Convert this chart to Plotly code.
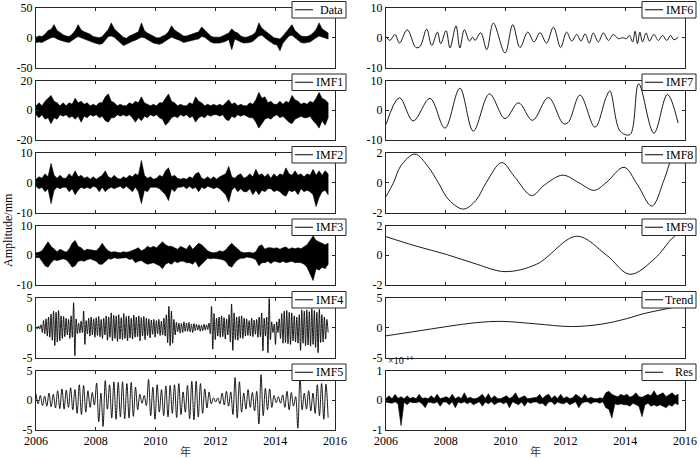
import numpy as np
import plotly.graph_objects as go

# ---------------- data ----------------
T_START, T_END = 2006.0, 2015.77

# Noisy series: upper / lower edges of the dense trace, ~0.1 yr apart
data_upper = [1,3,2,6,12,14,22,12,9,5, 3,2,6,12,22,13,10,8,6,2,
              1,0,2,8,14,25,15,10,5,1, -1,3,5,8,10,25,12,8,5,2,
              0,0,3,5,10,20,13,10,6,3, 3,5,6,8,10,18,13,9,3,1,
              1,1,3,5,8,15,10,8,3,1, 1,3,5,10,25,16,12,8,3,0,
              -1,-2,3,9,16,22,12,7,3,2, 2,4,8,14,25,15,12,8]
data_lower = [-8,-7,-8,-5,-2,0,1,-2,-4,-6, -7,-8,-5,-1,2,0,-3,-4,-6,-8,
              -10,-11,-10,-4,2,3,1,-3,-8,-13, -11,-9,-6,-4,-2,1,0,-3,-6,-9,
              -10,-11,-9,-6,-2,1,0,-3,-5,-8, -7,-5,-4,-3,-2,2,1,-3,-7,-9,
              -9,-9,-8,-6,-3,-20,-2,-4,-7,-9, -9,-8,-6,-2,3,4,0,-4,-8,-11,
              -12,-22,-9,-3,3,4,0,-4,-8,-9, -8,-7,-4,0,3,2,0,-2]

imf1_upper = [3,5,3,6,8,10,6,5,3,5, 3,5,4,8,5,6,4,5,3,4, 3,5,5,9,11,6,5,3,4,3,
              3,5,4,6,5,9,5,4,3,4, 3,5,5,8,11,6,5,3,4,3, 3,5,4,9,6,5,3,4,3,4,
              3,4,3,5,7,4,5,3,4,3, 3,5,4,7,12,8,9,5,6,4, 4,6,4,6,5,10,7,6,4,5,
              4,6,5,8,12,8,7,5]
imf1_lower = [-3,-5,-3,-6,-5,-9,-5,-6,-3,-4, -3,-5,-4,-6,-4,-8,-4,-5,-3,-4,
              -3,-5,-4,-7,-8,-5,-5,-3,-4,-3, -4,-3,-5,-8,-5,-7,-4,-5,-3,-4,
              -3,-5,-6,-10,-8,-5,-4,-5,-3,-4, -3,-5,-4,-8,-5,-4,-5,-3,-4,-3,
              -3,-4,-3,-6,-7,-4,-5,-3,-4,-3, -4,-5,-5,-8,-12,-9,-6,-5,-6,-4,
              -3,-5,-4,-6,-8,-9,-6,-5,-4,-5, -5,-4,-7,-9,-12,-7,-10,-5]

imf2_upper = [1.2,2,1.5,3,2,6.5,2.5,1.5,2.5,1.5, 1.5,3,2,4,2,2.5,1.5,2,1.2,2,
              1.2,2,2.5,4,2,1.5,2.5,1.5,1.2,2, 1.5,2.5,2,3,2.5,7.5,2.5,1.5,2,1.2,
              1.5,2.5,2,4,5,2,2.5,1.5,1.2,1.5, 1.2,2,1.5,3,3.5,1.5,1.2,2,1.2,2,
              1.2,2,2.5,3,5.5,2,1.5,2.5,3,1.5, 2,3,2,4.5,2.5,3,2,3,1.5,3,
              2,3,2.5,5,3,2.5,4,2.5,3,2, 3,2.5,4.5,2.5,4,2.5,4,3]
imf2_lower = [-1.2,-2,-1.5,-3,-2,-7,-2.5,-1.5,-2,-1.5, -1.5,-3,-2,-4,-2.5,-1.5,-2,-1.5,-2,-1.2,
              -1.5,-3,-1.5,-3,-2,-1.5,-2,-1.5,-1.2,-2, -1.2,-2,-3,-1.5,-3,-7,-2.5,-3,-1.5,-1.5,
              -1.5,-2,-3,-4,-6,-2,-3,-1.5,-1.5,-1.2, -2,-1.2,-2,-1.5,-3,-1.5,-2,-1.2,-1.5,-2,
              -1.5,-2,-3,-4,-6.5,-2.5,-1.5,-3,-2,-3, -3,-2,-4,-2.5,-4,-2.5,-3,-2,-2,-3,
              -2.5,-3,-4,-4.5,-2.5,-3,-2.5,-4,-2,-3, -2.5,-3,-4,-8,-5,-3,-2.5,-4]

imf3_upper = [0.8,1,1.5,3,4.5,3,2,1.2,2,1.5, 1,2,4,5,3,2.5,1.5,2,1.8,1.5,
              1.5,2.5,4,2.5,1.5,1,1.2,1,0.8,1.2, 1,1.2,1.5,2,2.5,1.5,2,3,2.5,3,
              2.5,3.5,4.5,3.5,3,3,2.5,2,3,2.5, 2,3.5,2,3,4,3.5,2.5,1.5,1,0.8,
              1,1.5,1.2,1.8,3,4,3,2,1.2,0.8, 0.8,1,0.7,1.2,3,3.5,2,2.5,2.5,2.3,
              2.5,2,2.5,2.8,2,2.5,2.2,2.5,2.2,3, 3.5,5,6.5,5,4.5,4,3.5,4]
imf3_lower = [-0.8,-0.7,-2,-3.5,-4,-2.5,-1.5,-1.8,-1.6,-1.2, -1.5,-2.5,-4,-3.5,-2,-1.8,-2,-1.5,-1.2,-1.6,
              -2,-3,-3,-2,-1.2,-1.3,-0.8,-1.1,-1,-0.9, -0.8,-1.4,-1.2,-2.5,-2,-1.8,-2.5,-3,-2.8,-2.5,
              -3,-3.5,-4.5,-3,-2.5,-3,-2,-2.5,-2,-2, -2.5,-2.5,-3,-2,-4,-3,-2,-1,-1.2,-1,
              -1.2,-1.3,-1.5,-2,-3.5,-4,-2.5,-1.5,-1,-1, -0.6,-0.8,-1,-1.5,-3.5,-2.5,-2.5,-2,-2.8,-2,
              -2.2,-2.5,-2,-2.5,-2.2,-2,-2.5,-2.4,-2.5,-3, -4,-6,-8.5,-4.5,-5,-4,-4.5,-3]

# Res in units of 1e-14 mm
res_e14_upper = [0.06,0.15,0.05,0.2,0.06,0.12,0.05,0.15,0.06,0.1, 0.05,0.2,0.06,0.08,0.05,0.15,0.06,0.2,0.05,0.08,
                 0.12,0.06,0.2,0.05,0.12,0.06,0.25,0.06,0.1,0.05, 0.06,0.12,0.2,0.06,0.22,0.05,0.15,0.06,0.05,0.1,
                 0.15,0.06,0.12,0.25,0.06,0.1,0.15,0.05,0.06,0.08, 0.1,0.2,0.06,0.15,0.2,0.06,0.15,0.06,0.2,0.06,
                 0.12,0.06,0.08,0.2,0.12,0.06,0.2,0.05,0.1,0.06, 0.05,0.08,0.06,0.25,0.3,0.2,0.15,0.12,0.2,0.15,
                 0.2,0.1,0.15,0.25,0.12,0.1,0.15,0.2,0.15,0.32, 0.15,0.2,0.25,0.12,0.2,0.25,0.15,0.2]
res_e14_lower = [-0.06,-0.08,-0.1,-0.05,-0.12,-0.85,-0.06,-0.15,-0.05,-0.08, -0.08,-0.05,-0.12,-0.25,-0.06,-0.08,-0.1,-0.05,-0.2,-0.06,
                 -0.06,-0.15,-0.05,-0.25,-0.06,-0.1,-0.05,-0.12,-0.06,-0.15, -0.1,-0.05,-0.2,-0.06,-0.12,-0.05,-0.15,-0.08,-0.06,-0.12,
                 -0.06,-0.25,-0.05,-0.1,-0.15,-0.06,-0.2,-0.05,-0.1,-0.06, -0.06,-0.12,-0.1,-0.2,-0.06,-0.05,-0.15,-0.06,-0.1,-0.12,
                 -0.06,-0.15,-0.1,-0.05,-0.25,-0.1,-0.06,-0.05,-0.12,-0.06, -0.06,-0.1,-0.05,-0.25,-0.3,-0.6,-0.12,-0.15,-0.12,-0.15,
                 -0.15,-0.2,-0.1,-0.15,-0.2,-0.55,-0.15,-0.1,-0.2,-0.15, -0.2,-0.15,-0.2,-0.25,-0.15,-0.2,-0.1,-0.15]

# Oscillatory series: successive extrema
imf4_vals = [
    0.1,-0.2,0.3,-0.2,0.5,-0.8,1.2,-1.0,1.5,-1.4,1.8,-1.6,2.3,-2.1,2.8,-3.0,2.6,-2.4,2.9,-2.2,2.0,-1.8,1.9,-1.5,
    1.6,-1.2,1.4,-1.8,2.0,-1.6,4.2,-4.7,1.5,-1.0,0.8,-0.9,1.1,-0.8,2.8,-2.8,1.2,-1.0,1.6,-1.4,1.8,-1.2,1.5,-1.6,
    1.7,-1.3,1.9,-1.5,1.4,-1.8,1.6,-1.2,2.0,-2.1,1.8,-1.6,2.5,-2.2,2.1,-1.8,2.0,-2.3,2.2,-1.9,1.7,-2.0,2.4,-1.8,
    1.9,-2.2,2.0,-1.7,1.6,-1.9,2.1,-1.6,1.8,-1.5,2.0,-2.2,1.7,-1.4,1.9,-2.0,1.6,-1.3,1.5,-1.7,1.3,-1.1,1.4,-1.6,
    1.2,-1.0,1.4,-1.3,1.1,-1.2,1.6,-1.4,2.2,-2.5,3.6,-3.0,2.8,-2.6,1.4,-1.2,0.9,-0.7,0.8,-0.9,0.7,-0.8,1.0,-0.6,
    0.8,-0.6,0.9,-0.7,0.6,-0.8,0.7,-0.5,0.6,-0.4,0.5,-0.6,0.4,-0.5,0.6,-0.4,0.5,-0.3,0.8,-1.0,3.6,-3.6,2.4,-2.0,
    1.6,-1.4,1.8,-1.6,2.0,-1.5,1.7,-1.9,1.5,-1.2,2.2,-2.4,4.0,-3.8,2.5,-2.0,1.8,-2.1,1.9,-1.7,2.0,-1.8,1.6,-1.4,
    1.5,-1.3,1.2,-1.4,1.6,-1.5,1.3,-1.1,1.4,-1.6,1.8,-1.5,2.5,-3.9,1.6,-1.4,1.8,-4.2,4.9,-2.0,1.0,-0.8,0.6,-2.8,
    1.0,-0.8,1.5,-1.8,2.4,-2.6,2.8,-2.5,2.9,-2.7,2.6,-2.8,2.5,-2.2,2.0,-2.4,1.8,-2.6,2.2,-3.8,3.0,-2.6,2.8,-3.0,
    3.0,-2.9,2.7,-3.1,3.2,-2.8,2.9,-3.3,2.6,-4.2,3.1,-2.5,2.2,-2.4,1.8,-1.9,1.4,-0.8]

imf5_vals = [
    1.1,-0.6,0.8,-0.9,0.7,-1.0,1.2,-1.1,1.0,-1.3,1.6,-1.4,1.9,-1.5,
    1.7,-1.2,2.1,-1.6,1.8,-2.2,2.6,-2.4,2.5,-2.0,1.6,-1.2,1.3,-0.8,
    2.9,-3.6,1.2,-4.4,3.3,-1.5,2.6,-3.0,3.1,-3.2,3.0,-2.8,3.1,-3.1,
    2.8,-3.0,3.0,-2.7,2.2,-1.6,1.0,-0.5,0.8,-0.9,3.5,-2.6,2.2,-3.2,
    2.6,-2.0,1.8,-2.6,2.4,-2.8,2.5,-2.2,2.6,-2.9,2.8,-2.4,1.4,-2.0,
    2.5,-3.1,3.2,-3.3,3.2,-2.8,2.8,-2.2,1.9,-1.3,1.4,-0.6,0.4,-0.3,
    0.4,-0.6,1.2,-0.8,1.5,-1.0,1.4,-2.4,3.8,-3.0,3.1,-2.0,1.2,-1.5,
    1.8,-1.2,1.3,-1.8,1.5,-4.0,4.3,-2.6,2.0,-1.6,1.9,-1.2,0.8,-0.4,
    0.6,-0.5,0.9,-1.2,1.5,-1.6,1.3,-1.0,0.6,-4.7,3.8,-1.6,1.2,-1.5,
    1.6,-1.8,1.2,-2.2,2.6,-2.6,2.8,-3.2,2.7,-2.9]

imf6_t = [2006.00,2006.13,2006.30,2006.45,2006.71,2007.00,2007.14,2007.36,2007.53,2007.72,
          2007.83,2008.01,2008.14,2008.34,2008.47,2008.62,2008.79,2008.90,2008.98,2009.17,
          2009.37,2009.59,2009.98,2010.24,2010.48,2010.74,2010.95,2011.15,2011.37,2011.60,
          2011.84,2012.04,2012.21,2012.38,2012.52,2012.66,2012.80,2012.93,2013.10,2013.27,
          2013.44,2013.60,2013.77,2013.92,2014.05,2014.14,2014.25,2014.33,2014.41,2014.49,
          2014.58,2014.70,2014.81,2014.96,2015.11,2015.25,2015.39,2015.52,2015.63,2015.78]
imf6_v = [0.4,-0.9,1.1,-1.8,2.7,-3.3,-2.9,2.9,-2.6,1.9,
          -2.0,2.4,-3.4,4.0,-3.4,2.7,-1.1,0.2,-0.9,1.7,
          -4.0,4.9,-5.1,4.4,-3.3,1.9,-1.4,1.7,-1.8,3.6,
          -3.3,1.9,-1.1,1.1,-1.1,1.3,-1.8,1.6,-1.4,1.6,
          -0.9,1.1,-0.3,0.0,-0.3,0.8,-1.4,2.2,-2.0,1.9,
          -1.4,1.6,-1.1,1.1,-0.9,0.8,-0.9,0.8,-0.7,0.2]

imf7_t = [2006.00,2006.45,2006.91,2007.47,2007.97,2008.47,2008.92,2009.46,2009.98,2010.43,
          2010.90,2011.43,2011.93,2012.10,2012.49,2012.99,2013.36,2013.49,2013.83,2014.16,
          2014.45,2014.96,2015.41,2015.77]
imf7_v = [-4.8,4.2,-3.6,4.0,-6.0,7.4,-7.0,5.5,-2.8,2.5,
          -3.4,4.3,-4.5,-4.0,5.1,-5.7,4.3,6.5,-7.0,-8.2,
          8.9,-7.7,5.3,-4.3]

imf8_t = [2006.00,2006.25,2006.50,2006.97,2007.40,2007.75,2008.10,2008.59,2009.00,2009.35,
          2009.87,2010.30,2010.87,2011.30,2011.91,2012.45,2012.96,2013.36,2013.96,2014.40,
          2014.89,2015.30,2015.55,2015.77]
imf8_v = [-0.93,0.0,1.15,1.93,1.10,0.0,-1.15,-1.77,-1.2,0.0,
          1.36,0.4,-0.86,-0.15,0.51,0.0,-0.51,0.0,1.04,-0.1,
          -1.57,0.2,1.65,2.4]

imf9_t = [2006.00,2007.00,2008.03,2009.03,2009.98,2011.04,2012.38,2013.38,2014.16,2015.00,2015.55,2015.77]
imf9_v = [1.25,0.62,0.05,-0.6,-1.10,-0.6,1.28,0.0,-1.28,-0.2,1.1,1.45]

trend_t = [2006.00,2007.00,2008.03,2009.00,2009.87,2011.00,2012.20,2013.20,2014.05,2014.60,2015.20,2015.77]
trend_v = [-1.36,-0.6,0.2,0.85,1.07,0.66,0.2,0.6,1.53,2.35,3.0,3.6]

names = ["Data", "IMF1", "IMF2", "IMF3", "IMF4", "IMF5",
         "IMF6", "IMF7", "IMF8", "IMF9", "Trend", "Res"]
y_limits = [50, 20, 10, 10, 5, 5, 10, 10, 2, 2, 5, 1]
x_ticks = [2006, 2008, 2010, 2012, 2014, 2016]


def grid(n):
    return list(np.linspace(T_START, T_END, n))


def band(up, lo):
    """Closed outline of the dense trace: upper edge forward, lower edge back."""
    tu, tl = grid(len(up)), grid(len(lo))
    return tu + tl[::-1], list(up) + list(lo[::-1])


series = [
    ("band", (data_upper, data_lower)), ("band", (imf1_upper, imf1_lower)),
    ("band", (imf2_upper, imf2_lower)), ("band", (imf3_upper, imf3_lower)),
    ("line", (grid(len(imf4_vals)), imf4_vals)),
    ("line", (grid(len(imf5_vals)), imf5_vals)),
    ("line", (imf6_t, imf6_v)), ("line", (imf7_t, imf7_v)),
    ("line", (imf8_t, imf8_v)), ("line", (imf9_t, imf9_v)),
    ("line", (trend_t, trend_v)), ("band", (res_e14_upper, res_e14_lower)),
]

# ---------------- layout ----------------
W, H = 700, 458
FONT = "Liberation Serif, Times New Roman, serif"
col_x = [(36, 335), (386, 685)]
row_top = [8, 80.5, 153, 225.5, 298, 370.5]
PH = 59.5
AXC = "#262626"

fig = go.Figure()
layout = dict(width=W, height=H, margin=dict(l=0, r=0, t=0, b=0, autoexpand=False),
              paper_bgcolor="white", plot_bgcolor="white", showlegend=False,
              font=dict(family=FONT, size=12, color="black"))
shapes, annos = [], []

for k, (name, lim, (kind, payload)) in enumerate(zip(names, y_limits, series)):
    col, row = divmod(k, 6)
    x0, x1 = col_x[col]
    top = row_top[row]
    sfx = "" if k == 0 else str(k + 1)
    if kind == "band":
        xs, ys = band(*payload)
        fig.add_trace(go.Scatter(x=xs, y=ys, mode="lines", fill="toself",
                                 fillcolor="black", line=dict(color="black", width=0.6),
                                 xaxis="x" + sfx, yaxis="y" + sfx, hoverinfo="skip"))
    else:
        xs, ys = payload
        fig.add_trace(go.Scatter(x=list(xs), y=list(ys), mode="lines",
                                 line=dict(color="black", width=0.9, shape="spline"),
                                 xaxis="x" + sfx, yaxis="y" + sfx, hoverinfo="skip"))
    common = dict(showline=True, mirror="allticks", linecolor=AXC, linewidth=1,
                  ticks="inside", ticklen=3, tickcolor=AXC, showgrid=False,
                  zeroline=False, automargin=False,
                  tickfont=dict(family=FONT, size=12, color="black"))
    layout["xaxis" + sfx] = dict(common, domain=[x0 / W, x1 / W], anchor="y" + sfx,
                                 range=[2006, 2016], tickvals=x_ticks,
                                 ticktext=[str(v) for v in x_ticks],
                                 showticklabels=(row == 5))
    layout["yaxis" + sfx] = dict(common, domain=[1 - (top + PH) / H, 1 - top / H],
                                 anchor="x" + sfx, range=[-lim, lim],
                                 tickvals=[-lim, 0, lim],
                                 ticktext=["-%g" % lim, "0", "%g" % lim])
    # legend box (drawn by hand)
    bx1 = x1 + 11
    bx0 = bx1 - 54
    by0, by1 = top - 6.5, top + 10
    shapes.append(dict(type="rect", xref="paper", yref="paper",
                       x0=bx0 / W, x1=bx1 / W, y0=1 - by1 / H, y1=1 - by0 / H,
                       fillcolor="white", line=dict(color=AXC, width=1), layer="above"))
    yc = (by0 + by1) / 2
    shapes.append(dict(type="line", xref="paper", yref="paper",
                       x0=(bx0 + 3) / W, x1=(bx0 + 21) / W, y0=1 - yc / H, y1=1 - yc / H,
                       line=dict(color="black", width=1), layer="above"))
    annos.append(dict(text=name, xref="paper", yref="paper", x=(bx1 - 1.5) / W,
                      y=1 - yc / H, xanchor="right", yanchor="middle", showarrow=False,
                      font=dict(family=FONT, size=12, color="black")))

annos.append(dict(text="Amplitude/mm", xref="paper", yref="paper", x=8 / W, y=1 - 230 / H,
                  textangle=-90, showarrow=False, xanchor="center", yanchor="middle",
                  font=dict(family=FONT, size=12, color="black")))
for (x0, x1) in col_x:
    annos.append(dict(text="年", xref="paper", yref="paper", x=(x0 + x1) / 2 / W,
                      y=1 - 451 / H, showarrow=False, xanchor="center", yanchor="middle",
                      font=dict(family="Noto Sans CJK SC", size=11, color="#333333")))
annos.append(dict(text="×10<sup>-14</sup>", xref="paper", yref="paper", x=386 / W,
                  y=1 - 368 / H, showarrow=False, xanchor="left", yanchor="bottom",
                  font=dict(family=FONT, size=10, color="black")))

layout["shapes"] = shapes
layout["annotations"] = annos
fig.update_layout(**layout)
fig.write_html("out.html", config={"displayModeBar": False},
               post_script="document.body.style.margin='0';document.body.style.overflow='hidden';")
